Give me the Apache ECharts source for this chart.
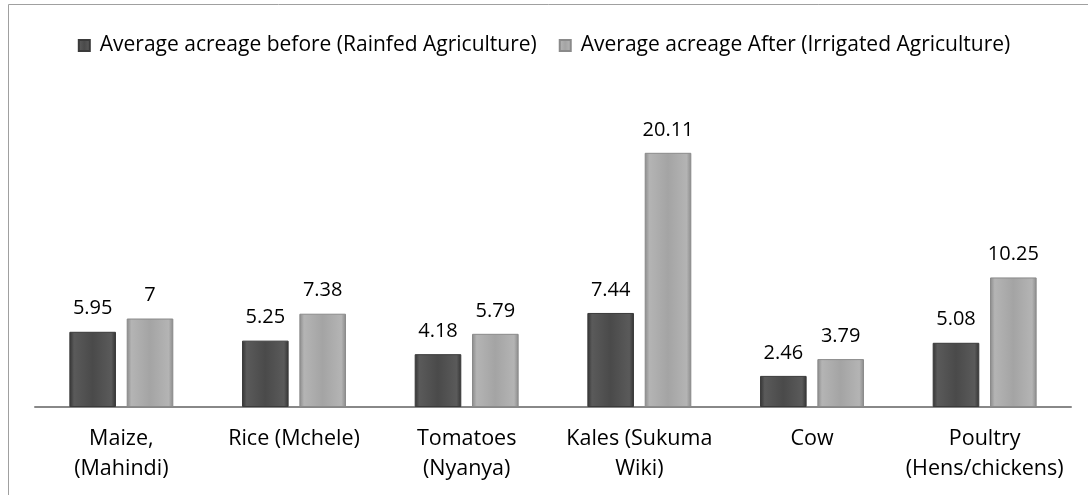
<!DOCTYPE html>
<html><head><meta charset="utf-8">
<script src="https://cdn.jsdelivr.net/npm/echarts@6/dist/echarts.min.js"></script>
<style>html,body{margin:0;padding:0;background:#fff}#c{width:1088px;height:495px}</style>
</head><body><div id="c"></div>
<script>
const categories = ['Maize,\n(Mahindi)', 'Rice (Mchele)', 'Tomatoes\n(Nyanya)', 'Kales (Sukuma\nWiki)', 'Cow', 'Poultry\n(Hens/chickens)'];
const seriesNames = ['Average acreage before (Rainfed Agriculture)', 'Average acreage After (Irrigated Agriculture)'];
const before = [5.95, 5.25, 4.18, 7.44, 2.46, 5.08];
const after = [7, 7.38, 5.79, 20.11, 3.79, 10.25];

function grad(edge, mid, hi) {
  return new echarts.graphic.LinearGradient(0, 0, 1, 0, [
    {offset: 0, color: edge}, {offset: 0.1, color: hi}, {offset: 0.5, color: mid}, {offset: 0.9, color: hi}, {offset: 1, color: edge}
  ]);
}
const font = '"Open Sans", sans-serif';
const chart = echarts.init(document.getElementById('c'));
chart.setOption({
  animation: false,
  backgroundColor: '#fff',
  graphic: [
    {type: 'line', shape: {x1: 8.5, y1: 4.5, x2: 1088, y2: 4.5}, style: {stroke: '#a0a0a0', lineWidth: 1}},
    {type: 'line', shape: {x1: 8.5, y1: 4.5, x2: 8.5, y2: 495}, style: {stroke: '#a0a0a0', lineWidth: 1}}
  ],
  legend: {
    top: 30, left: 'center', itemWidth: 11, itemHeight: 11, itemGap: 22,
    icon: 'rect',
    textStyle: {fontFamily: font, fontSize: 21, color: '#000', padding: [0, 0, 0, 5]},
    data: seriesNames
  },
  grid: {left: 35, right: 17, top: 91, bottom: 88, containLabel: false},
  xAxis: {
    type: 'category', data: categories,
    axisLine: {lineStyle: {color: '#888', width: 2}},
    axisTick: {show: false},
    axisLabel: {fontFamily: font, fontSize: 21.5, color: '#000', margin: 17, lineHeight: 30, interval: 0}
  },
  yAxis: {type: 'value', min: 0, max: 25, show: false, splitLine: {show: false}},
  series: [
    {name: seriesNames[0], type: 'bar', data: before, barWidth: '27%', barGap: '23%',
     itemStyle: {color: grad('#333333', '#4a4a4a', '#5a5a5a'), borderColor: '#3a3a3a', borderWidth: 1},
     label: {show: true, position: 'top', distance: 13, fontFamily: font, fontSize: 20, color: '#000'}},
    {name: seriesNames[1], type: 'bar', data: after, barWidth: '27%',
     itemStyle: {color: grad('#8a8a8a', '#a4a4a4', '#b4b4b4'), borderColor: '#8a8a8a', borderWidth: 1},
     label: {show: true, position: 'top', distance: 13, fontFamily: font, fontSize: 20, color: '#000'}}
  ]
});
</script></body></html>
